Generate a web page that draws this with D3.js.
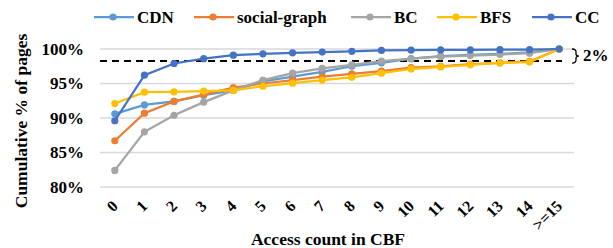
<!DOCTYPE html>
<html><head><meta charset="utf-8">
<script src="https://cdn.jsdelivr.net/npm/d3@7"></script>
<style>body{margin:0;background:#fff}svg{display:block}</style>
</head><body><svg id="c" width="613" height="248"></svg>
<script>
const categories = ["0","1","2","3","4","5","6","7","8","9","10","11","12","13","14",">=15"];
const seriesNames = ["CDN","social-graph","BC","BFS","CC"];
const cdn    = [90.6, 91.9, 92.4, 93.3, 94.0, 95.3, 96.0, 96.7, 97.5, 98.0, 98.6, 98.95, 99.15, 99.3, 99.5, 100];
const social = [86.7, 90.7, 92.4, 93.4, 94.4, 95.0, 95.5, 96.0, 96.4, 96.8, 97.3, 97.5, 97.8, 98.0, 98.2, 100];
const bc     = [82.4, 88.0, 90.4, 92.3, 94.0, 95.5, 96.5, 97.2, 97.7, 98.25, 98.6, 98.9, 99.05, 99.2, 99.4, 100];
const bfs    = [92.1, 93.75, 93.8, 93.9, 94.0, 94.6, 95.05, 95.5, 95.9, 96.5, 97.1, 97.4, 97.7, 98.0, 98.1, 100];
const cc     = [89.6, 96.2, 97.9, 98.6, 99.1, 99.3, 99.45, 99.56, 99.66, 99.8, 99.85, 99.87, 99.88, 99.9, 99.9, 100];
const yTicks = [80, 85, 90, 95, 100];
const threshold = 98.25;
const colors = ["#5B9BD5","#ED7D31","#A5A5A5","#FFC000","#4472C4"];
const allSeries = [cdn, social, bc, bfs, cc];
const FONT = "'Liberation Serif', Tinos, 'Times New Roman', serif";

const svg = d3.select("#c").attr("font-family", FONT).attr("font-weight", "bold");
const x = d3.scalePoint().domain(categories).range([100, 574]).padding(0.5);
const y = d3.scaleLinear().domain([80, 100]).range([187, 49]);

// gridlines
svg.append("g").selectAll("line").data(yTicks).join("line")
  .attr("x1", 100).attr("x2", 574)
  .attr("y1", d => y(d)).attr("y2", d => y(d))
  .attr("stroke", "#D9D9D9").attr("stroke-width", 1.3);

// y labels
svg.append("g").selectAll("text").data(yTicks).join("text")
  .attr("x", 84).attr("y", d => y(d)).attr("dy", "0.35em")
  .attr("text-anchor", "end").attr("font-size", 17)
  .text(d => d + "%");

// x labels
svg.append("g").selectAll("text").data(categories).join("text")
  .attr("text-anchor", "end").attr("font-size", 16)
  .attr("transform", d => `translate(${x(d) + 4},207) rotate(-45)`)
  .text(d => d);

// titles
svg.append("text").attr("x", 328).attr("y", 245).attr("text-anchor", "middle")
  .attr("font-size", 17.5).text("Access count in CBF");
svg.append("text").attr("transform", "translate(27,121) rotate(-90)")
  .attr("text-anchor", "middle").attr("font-size", 17.5).text("Cumulative % of pages");

// threshold dashed line
svg.append("line").attr("x1", 100).attr("x2", 562)
  .attr("y1", y(threshold)).attr("y2", y(threshold))
  .attr("stroke", "#000").attr("stroke-width", 2).attr("stroke-dasharray", "7,5");

// series
const line = d3.line().x((d, i) => x(categories[i])).y(d => y(d));
allSeries.forEach((s, k) => {
  const g = svg.append("g");
  g.append("path").datum(s).attr("d", line).attr("fill", "none")
    .attr("stroke", colors[k]).attr("stroke-width", 2.25);
  g.selectAll("circle").data(s).join("circle")
    .attr("cx", (d, i) => x(categories[i])).attr("cy", d => y(d))
    .attr("r", 3.6).attr("fill", colors[k]);
});

// brace + 2%
const by0 = y(100), by1 = y(threshold), bm = (by0 + by1) / 2;
svg.append("path")
  .attr("d", `M572,${by0} q4,0 4,3 v${bm - by0 - 4} q0,2 3,2 q-3,0 -3,2 v${by1 - bm - 4} q0,3 -4,3`)
  .attr("fill", "none").attr("stroke", "#000").attr("stroke-width", 1.3);
svg.append("text").attr("x", 583).attr("y", bm).attr("dy", "0.35em")
  .attr("font-size", 17).text("2%");

// legend
const legendX = [94, 194, 351, 437, 532];
const lg = svg.append("g");
seriesNames.forEach((n, k) => {
  const lx = legendX[k];
  lg.append("line").attr("x1", lx).attr("x2", lx + 40).attr("y1", 17).attr("y2", 17)
    .attr("stroke", colors[k]).attr("stroke-width", 2.25);
  lg.append("circle").attr("cx", lx + 19).attr("cy", 17).attr("r", 3.6).attr("fill", colors[k]);
  lg.append("text").attr("x", lx + 43).attr("y", 17).attr("dy", "0.35em")
    .attr("font-size", 17).text(n);
});
</script></body></html>
